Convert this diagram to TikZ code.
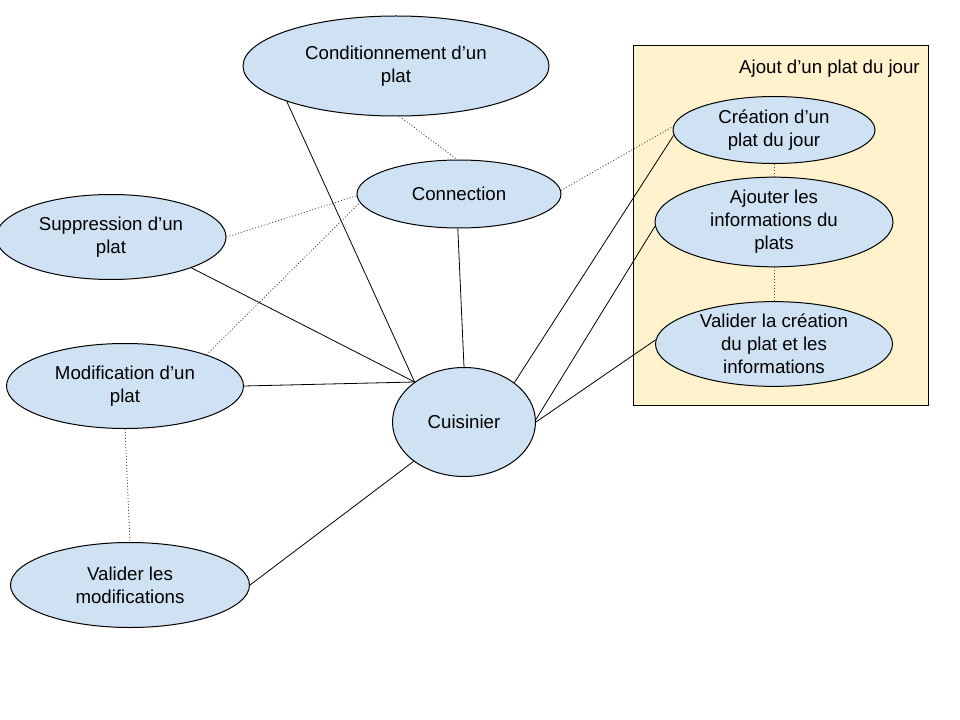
\documentclass[tikz,border=0pt]{standalone}
\usepackage{fontspec}
\setmainfont{Liberation Sans}
\usetikzlibrary{shapes.geometric}

\begin{document}
\begin{tikzpicture}[x=0.75pt,y=-0.75pt,
    usecase/.style={ellipse,draw=black,line width=0.75pt,fill=caseblue,inner sep=0pt,
      align=center,font=\fontsize{14}{17.25}\selectfont},
    link/.style={draw=black,line width=0.6pt},
    include/.style={draw=black!75,line width=0.6pt,dash pattern=on 0.75pt off 1.5pt}]
  \definecolor{caseblue}{HTML}{CFE2F3}
  \definecolor{boxyellow}{HTML}{FFF2CC}
  \useasboundingbox (0,0) rectangle (960,720);

  % zone du plat du jour
  \node[draw=black,line width=0.75pt,fill=boxyellow,minimum width=221.25pt,minimum height=269.25pt,inner sep=0pt]
    (box) at (780.5,225.5) {};
  \node[anchor=east,inner sep=0pt,font=\fontsize{14}{17.25}\selectfont] (boxlabel) at (920,69) {Ajout d’un plat du jour};

  \node[usecase,minimum width=229.5pt,minimum height=75pt] (cond) at (396,66) {Conditionnement d’un\\plat};
  \node[usecase,minimum width=153pt,minimum height=51pt] (conn) at (459,194) {Connection};
  \node[usecase,minimum width=172.5pt,minimum height=63.75pt] (supp) at (111,237) {Suppression d’un\\plat};
  \node[usecase,minimum width=177.75pt,minimum height=63.75pt] (modif) at (125,386) {Modification d’un\\plat};
  \node[usecase,minimum width=179.25pt,minimum height=63.75pt] (valmod) at (130,585) {Valider les\\modifications};
  \node[usecase,minimum width=107.25pt,minimum height=81.75pt] (cuis) at (464,422) {Cuisinier};
  \node[usecase,minimum width=151.5pt,minimum height=50.25pt] (crea) at (774,130) {Création d’un\\plat du jour};
  \node[usecase,minimum width=178.5pt,minimum height=63pt] (infos) at (774,222) {Ajouter les\\informations du\\plats};
  \node[usecase,minimum width=177.75pt,minimum height=57pt] (valcrea) at (774,344) {Valider la création\\du plat et les\\informations};

  % liens de l'acteur
  \draw[link] (cond.198) -- (cuis.141);
  \draw[link] (supp.339) -- (cuis.141);
  \draw[link] (modif.0) -- (cuis.141);
  \draw[link] (conn.268) -- (cuis.90);
  \draw[link] (valmod.0) -- (cuis.218);
  \draw[link] (cuis.38) -- (crea.183);
  \draw[link] (cuis.2) -- (infos.182);
  \draw[link] (cuis.0) -- (valcrea.178);

  % dependances
  \draw[include] (cond.274) -- (conn.93);
  \draw[include] (supp.0) -- (conn.181);
  \draw[include] (modif.21) -- (conn.185);
  \draw[include] (conn.2) -- (crea.178);
  \draw[include] (modif.270) -- (valmod.90);
  \draw[include] (crea.270) -- (infos.90);
  \draw[include] (infos.270) -- (valcrea.90);
\end{tikzpicture}
\end{document}
